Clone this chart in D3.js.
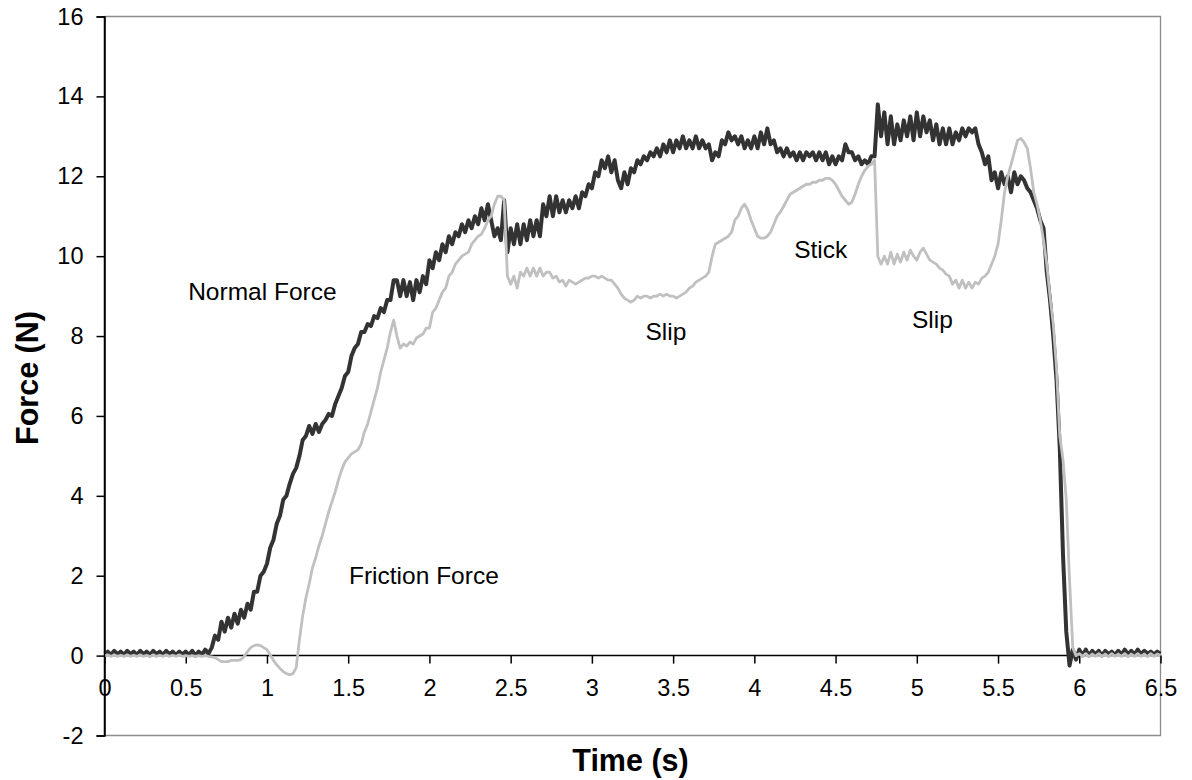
<!DOCTYPE html>
<html>
<head>
<meta charset="utf-8">
<script src="https://cdn.jsdelivr.net/npm/d3@7"></script>
<style>
  html, body { margin: 0; padding: 0; background: #fff; }
  svg { display: block; font-family: Arial, "Liberation Sans", sans-serif; }
</style>
</head>
<body>
<svg id="chart" width="1192" height="780"></svg>
<script>
// ---- data ----
const sampleStep = 0.02; // seconds between samples, t = 0 .. 6.5
const normalForce = [
  0.05,0.1,0.02,0.12,0.03,0.1,0.02,0.12,0.04,0.1,0.02,0.12,0.03,0.1,0.02,0.12,0.04,0.1,0.02,0.12,0.03,0.1,0.02,0.1,0.03,
  0.1,0.02,0.12,0.0,0.1,0.02,0.15,0.05,0.2,0.5,0.4,0.85,0.6,0.95,0.7,1.05,0.8,1.15,0.95,1.3,1.15,1.6,1.6,2.0,2.1,
  2.3,2.7,2.9,3.3,3.5,3.9,4.0,4.3,4.55,4.7,5.0,5.4,5.5,5.75,5.55,5.8,5.6,5.8,5.9,6.05,6.0,6.3,6.5,6.7,7.0,
  7.1,7.5,7.7,7.8,8.1,8.1,8.3,8.25,8.5,8.45,8.7,8.6,8.9,8.9,9.4,9.4,9.0,9.4,9.0,9.35,8.9,9.4,9.1,9.5,9.3,
  9.9,9.7,10.1,9.9,10.3,10.1,10.5,10.3,10.6,10.5,10.8,10.6,10.9,10.7,11.0,10.8,11.2,10.9,11.3,10.9,10.5,10.7,10.4,11.4,10.1,
  10.7,10.3,10.8,10.3,10.8,10.4,10.9,10.5,10.9,10.5,11.3,11.0,11.5,11.0,11.5,11.1,11.4,11.1,11.4,11.2,11.5,11.2,11.6,11.5,11.8,
  11.7,12.1,12.0,12.4,12.2,12.5,12.1,12.4,11.9,11.7,12.1,11.8,12.2,12.1,12.4,12.3,12.5,12.4,12.6,12.5,12.7,12.5,12.8,12.6,12.9,
  12.6,12.9,12.7,13.0,12.7,12.9,12.7,13.0,12.7,12.9,12.7,12.8,12.4,12.6,12.5,12.9,12.8,13.1,12.9,13.0,12.8,13.0,12.7,12.9,12.7,
  13.0,12.7,13.1,12.8,13.2,12.8,12.9,12.6,12.7,12.5,12.7,12.5,12.6,12.4,12.6,12.4,12.6,12.5,12.6,12.4,12.6,12.4,12.6,12.3,12.5,
  12.3,12.5,12.4,12.8,12.6,12.6,12.4,12.5,12.3,12.4,12.3,12.5,12.5,13.8,13.0,13.6,12.8,13.5,12.8,13.3,12.9,13.4,13.0,13.5,12.9,
  13.6,13.0,13.5,13.1,13.4,12.9,13.3,12.8,13.2,12.8,13.2,12.8,13.1,12.9,13.2,13.0,13.2,13.1,13.2,12.8,12.6,12.3,12.5,11.9,12.1,
  11.7,12.1,11.8,12.0,11.6,12.1,11.8,12.0,11.9,11.7,11.6,11.4,11.2,10.9,10.7,9.6,8.9,8.0,6.9,5.2,2.5,0.6,-0.25,0.15,-0.1,
  0.15,0.0,0.15,0.0,0.12,0.02,0.12,0.0,0.12,0.03,0.1,0.02,0.12,0.02,0.15,0.03,0.12,0.02,0.15,0.03,0.12,0.05,0.1,0.03,0.1,0.05
];
const frictionForce = [
  0.0,0.02,-0.02,0.02,-0.02,0.01,-0.02,0.02,-0.02,0.01,-0.02,0.02,-0.02,0.01,-0.03,0.02,-0.02,0.01,-0.02,0.02,-0.02,0.01,-0.02,0.02,-0.02,
  0.0,-0.02,0.0,-0.02,0.0,-0.02,0.0,-0.02,-0.03,-0.05,-0.1,-0.15,-0.15,-0.15,-0.12,-0.12,-0.12,-0.1,-0.02,0.1,0.2,0.25,0.27,0.25,0.2,
  0.15,0.02,-0.12,-0.23,-0.32,-0.4,-0.45,-0.48,-0.45,-0.3,0.4,1.0,1.45,1.8,2.2,2.45,2.75,3.0,3.3,3.6,3.85,4.1,4.4,4.65,4.85,
  4.95,5.05,5.1,5.15,5.3,5.6,5.8,6.1,6.4,6.7,7.1,7.4,7.7,8.1,8.4,8.0,7.7,7.8,7.75,7.85,7.8,7.95,8.0,8.05,8.2,
  8.2,8.6,8.7,8.9,9.1,9.2,9.5,9.6,9.8,9.9,10.0,10.05,10.1,10.3,10.4,10.5,10.55,10.7,10.9,11.0,11.3,11.5,11.5,11.4,9.5,
  9.3,9.5,9.2,9.6,9.5,9.7,9.5,9.7,9.5,9.7,9.5,9.6,9.6,9.45,9.5,9.35,9.4,9.25,9.4,9.35,9.3,9.35,9.4,9.45,9.45,
  9.5,9.5,9.45,9.5,9.45,9.4,9.4,9.3,9.2,9.05,8.95,8.9,8.85,8.9,9.0,8.95,9.0,9.0,8.95,9.0,9.0,9.05,9.0,9.05,9.0,
  9.0,8.95,9.0,9.05,9.1,9.2,9.25,9.35,9.4,9.45,9.5,9.6,10.0,10.3,10.35,10.4,10.45,10.5,10.6,10.9,11.0,11.2,11.3,11.15,10.9,
  10.7,10.5,10.45,10.45,10.5,10.6,10.8,11.0,11.1,11.25,11.4,11.55,11.6,11.65,11.7,11.75,11.8,11.8,11.85,11.85,11.9,11.9,11.95,11.95,11.9,
  11.8,11.65,11.5,11.4,11.3,11.35,11.55,11.8,12.0,12.15,12.25,12.3,12.4,10.0,9.8,10.0,9.8,10.1,9.8,10.05,9.85,10.1,9.9,10.15,10.0,
  9.9,10.1,10.2,10.05,9.9,9.85,9.8,9.7,9.65,9.55,9.5,9.3,9.4,9.2,9.4,9.2,9.35,9.2,9.35,9.3,9.45,9.5,9.6,9.8,10.0,
  10.3,10.9,11.6,12.0,12.3,12.6,12.9,12.95,12.85,12.7,12.2,11.6,11.3,10.9,10.4,9.8,9.0,8.3,7.2,5.5,4.9,3.9,1.9,0.2,0.0,
  0.05,-0.02,0.05,-0.03,0.04,-0.02,0.05,-0.02,0.04,-0.03,0.05,-0.02,0.04,-0.02,0.05,-0.03,0.04,-0.02,0.05,-0.02,0.04,-0.03,0.05,-0.02,0.04,0.0
];
const xTicks = [0,0.5,1,1.5,2,2.5,3,3.5,4,4.5,5,5.5,6,6.5];
const yTicks = [-2,0,2,4,6,8,10,12,14,16];
const annotations = [
  { text: "Normal Force",   t: 0.515, v: 8.9 },
  { text: "Friction Force", t: 1.505, v: 1.8 },
  { text: "Slip",           t: 3.33,  v: 7.9 },
  { text: "Stick",          t: 4.245, v: 9.95 },
  { text: "Slip",           t: 4.97,  v: 8.2 }
];
const xTitle = "Time (s)";
const yTitle = "Force (N)";

// ---- layout ----
const svg = d3.select("#chart");
const pLeft = 104.5, pRight = 1160.5, pTop = 16.5, pBottom = 735.5;
const x = d3.scaleLinear().domain([0, 6.5]).range([pLeft, pRight]);
const y = d3.scaleLinear().domain([-2, 16]).range([pBottom, pTop]);
const fontFam = "Arial, 'Liberation Sans', sans-serif";

// plot border (gray top/right/bottom)
svg.append("path")
  .attr("d", `M${pLeft},${pTop}H${pRight}V${pBottom}H${pLeft}`)
  .attr("fill", "none").attr("stroke", "#8c8c8c").attr("stroke-width", 1.3);

// y axis
const yAxis = d3.axisLeft(y).tickValues(yTicks).tickSize(8).tickPadding(13).tickFormat(d => String(d));
const gy = svg.append("g").attr("transform", `translate(${pLeft},0)`).call(yAxis);
gy.select(".domain").attr("stroke", "#000").attr("stroke-width", 1.5);
gy.selectAll(".tick line").attr("stroke", "#000").attr("stroke-width", 1.5);
gy.selectAll(".tick text").attr("font-size", 23.5).attr("fill", "#000").attr("font-family", fontFam);

// x axis at y=0
const xAxis = d3.axisBottom(x).tickValues(xTicks).tickSize(8).tickPadding(16)
  .tickFormat(d => String(d));
const gx = svg.append("g").attr("transform", `translate(0,${y(0)})`).call(xAxis);
gx.select(".domain").attr("stroke", "#000").attr("stroke-width", 1.5)
  .attr("d", `M${pLeft},0H${pRight}`);
gx.selectAll(".tick line").attr("stroke", "#000").attr("stroke-width", 1.5);
gx.selectAll(".tick text").attr("font-size", 23.5).attr("fill", "#000").attr("font-family", fontFam);

// lines
const line = d3.line().x((d, i) => x(i * sampleStep)).y(d => y(d));
svg.append("path").datum(normalForce)
  .attr("d", line).attr("fill", "none")
  .attr("stroke", "#333333").attr("stroke-width", 4).attr("stroke-linejoin", "round");
svg.append("path").datum(frictionForce)
  .attr("d", line).attr("fill", "none")
  .attr("stroke", "#c0c0c0").attr("stroke-width", 2.8).attr("stroke-linejoin", "round");

// redraw left axis line on top (so lines don't cover it)
svg.append("line").attr("x1", pLeft).attr("x2", pLeft).attr("y1", pTop).attr("y2", pBottom)
  .attr("stroke", "#000").attr("stroke-width", 1.5);

// annotations
svg.selectAll("text.ann").data(annotations).enter().append("text")
  .attr("class", "ann")
  .attr("x", d => x(d.t)).attr("y", d => y(d.v))
  .attr("font-size", 24.5).attr("fill", "#000")
  .text(d => d.text);

// axis titles
svg.append("text").attr("x", (pLeft + pRight) / 2 - 2).attr("y", 771)
  .attr("text-anchor", "middle").attr("font-size", 30.5).attr("font-weight", "bold")
  .text(xTitle);
svg.append("text").attr("transform", `translate(38,${(pTop + pBottom) / 2 + 2}) rotate(-90)`)
  .attr("text-anchor", "middle").attr("font-size", 30.5).attr("font-weight", "bold")
  .text(yTitle);
</script>
</body>
</html>
